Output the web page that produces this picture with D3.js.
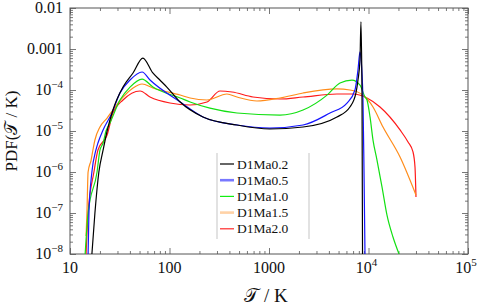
<!DOCTYPE html>
<html>
<head>
<meta charset="utf-8">
<script src="https://cdn.jsdelivr.net/npm/d3@7"></script>
<style>
  body { margin: 0; background: #fff; }
  text { font-family: "Liberation Serif", "DejaVu Serif", serif; fill: #111; }
</style>
</head>
<body>
<div id="chart"></div>
<script>
// series: temperature (K) and PDF values
var tMa02 = [16.6, 17.8, 19.5, 21.5, 23.6, 27, 34.1, 43, 54, 68, 80, 94, 128, 217, 477, 1020, 2200, 4820, 6510, 7480, 7840, 8210, 8400, 8610, 8710];
var pMa02 = [1e-8, 1e-7, 1e-6, 3.4e-6, 1e-5, 3.25e-5, 1.18e-4, 2.6e-4, 6e-4, 2.6e-4, 1.75e-4, 1.18e-4, 5.1e-5, 2.2e-5, 1.4e-5, 1.12e-5, 1.25e-5, 2.2e-5, 3.85e-5, 8.5e-5, 1.75e-4, 5.4e-4, 4.6e-3, 5.7e-5, 1e-8];

var tMa05 = [15.2, 15.5, 16.6, 18.2, 19.1, 21.5, 26.4, 31.8, 40.1, 53, 63.7, 128, 217, 477, 1020, 2200, 4100, 6080, 7310, 7840, 8210, 8400, 8800, 9010, 9220];
var pMa05 = [1e-8, 1e-7, 1e-6, 3.4e-6, 5.1e-6, 1.06e-5, 2.75e-5, 8.5e-5, 1.75e-4, 2.75e-4, 1.75e-4, 5.1e-5, 2.2e-5, 1.4e-5, 1.18e-5, 1.4e-5, 2.75e-5, 4.8e-5, 1e-4, 3.1e-4, 8.5e-4, 6e-4, 5.7e-5, 1.1e-6, 1e-8];

var tMa10 = [14.2, 15.2, 18.7, 20, 21.5, 23, 25.2, 31.8, 40.1, 53, 68.2, 128, 161, 255, 477, 1290, 2200, 3830, 5170, 6820, 8210, 9220, 9660, 10360, 11100, 12170, 13680, 15340, 17620, 20270];
var pMa10 = [1e-8, 1e-7, 1e-6, 3.4e-6, 5.1e-6, 1e-5, 1.57e-5, 5.7e-5, 1.18e-4, 1.85e-4, 1.18e-4, 6.4e-5, 5.1e-5, 3.6e-5, 2.75e-5, 2.45e-5, 3.25e-5, 7.5e-5, 1.48e-4, 1.75e-4, 1.32e-4, 6.75e-5, 5.7e-5, 2.2e-5, 6e-6, 1.96e-6, 4.3e-7, 8.9e-8, 2.6e-8, 1e-8];

var tMa15 = [14.5, 14.8, 15.2, 16.3, 17.0, 17.8, 20, 23.6, 27, 34.1, 43, 53, 68.2, 128, 161, 238, 378, 477, 757, 1290, 2200, 4820, 6510, 8800, 11100, 13990, 20750, 30000];
var pMa15 = [2.75e-8, 1e-7, 1e-6, 1.96e-6, 3.44e-6, 6.03e-6, 1.25e-5, 2.07e-5, 3.25e-5, 6.75e-5, 1.12e-4, 1.4e-4, 1.12e-4, 7.55e-5, 6.38e-5, 5.7e-5, 7.98e-5, 6.75e-5, 5.39e-5, 6.38e-5, 8.45e-5, 1.06e-4, 1e-4, 7.55e-5, 3.85e-5, 1.25e-5, 2.32e-6, 2.75e-7];

var tMa20 = [14.5, 15.2, 17.4, 19.1, 23.6, 27, 34.1, 50.6, 63.7, 101, 161, 238, 322, 425, 690, 1290, 2200, 4820, 6980, 9660, 13050, 20750, 24960, 28010, 29330, 30000];
var pMa20 = [1e-8, 1e-7, 1e-6, 3.44e-6, 7.98e-6, 2.75e-5, 5.7e-5, 9.45e-5, 6.75e-5, 4.82e-5, 4.31e-5, 5.09e-5, 9.45e-5, 8.94e-5, 6.75e-5, 6.03e-5, 6.75e-5, 7.98e-5, 7.98e-5, 6.38e-5, 3.85e-5, 1.06e-5, 5.39e-6, 3.08e-6, 1.32e-6, 2.45e-7];

var names = ["D1Ma0.2", "D1Ma0.5", "D1Ma1.0", "D1Ma1.5", "D1Ma2.0"];
var lineColors = ["#000000", "#1414ff", "#12e012", "#ff8c1a", "#ff1a1a"];
var legendColors = ["#000000", "#7878ff", "#12ee12", "#ffd2a6", "#ff2a2a"];
var legendWidths = [1.2, 2.6, 1.2, 2.6, 1.2];

var xTicks = [10, 100, 1000, 1e4, 1e5];
var xTickLabels = ["10", "100", "1000", "10^4", "10^5"];
var yTicks = [1e-8, 1e-7, 1e-6, 1e-5, 1e-4, 1e-3, 1e-2];
var yTickLabels = ["10^\u22128", "10^\u22127", "10^\u22126", "10^\u22125", "10^\u22124", "0.001", "0.01"];

var series = [
  {t: tMa02, p: pMa02},
  {t: tMa05, p: pMa05},
  {t: tMa10, p: pMa10},
  {t: tMa15, p: pMa15},
  {t: tMa20, p: pMa20}
];

var width = 480, height = 308;
var svg = d3.select("#chart").append("svg")
    .attr("width", width)
    .attr("height", height);

var x = d3.scaleLog().domain([10, 1e5]).range([70, 468]);
var y = d3.scaleLog().domain([1e-8, 1e-2]).range([254, 8]);

var xMinor = x.ticks().filter(function(v) { return xTicks.indexOf(v) < 0; });
var yMinor = y.ticks().filter(function(v) { return yTicks.indexOf(v) < 0; });

// ticks on all four sides, pointing inward
function ticks(axis, tx, vals, size) {
  var g = svg.append("g")
    .attr("transform", tx)
    .call(axis.tickValues(vals).tickSize(-size).tickFormat(""));
  g.select(".domain").remove();
  g.selectAll("line").attr("stroke", "#555").attr("stroke-width", 0.8);
}
ticks(d3.axisBottom(x), "translate(0,254)", xTicks, 6);
ticks(d3.axisBottom(x), "translate(0,254)", xMinor, 3);
ticks(d3.axisTop(x), "translate(0,8)", xTicks, 6);
ticks(d3.axisTop(x), "translate(0,8)", xMinor, 3);
ticks(d3.axisLeft(y), "translate(70,0)", yTicks, 6);
ticks(d3.axisLeft(y), "translate(70,0)", yMinor, 3);
ticks(d3.axisRight(y), "translate(468,0)", yTicks, 6);
ticks(d3.axisRight(y), "translate(468,0)", yMinor, 3);

svg.append("rect")
    .attr("x", 70).attr("y", 8)
    .attr("width", 398).attr("height", 246)
    .attr("fill", "none")
    .attr("stroke", "#555")
    .attr("stroke-width", 1);

// tick labels with superscripts
function label(sel, s) {
  var parts = s.split("^");
  sel.append("tspan").text(parts[0]);
  if (parts[1]) sel.append("tspan").attr("dy", -7).attr("font-size", 11).text(parts[1]);
}
xTicks.forEach(function(v, i) {
  var t = svg.append("text")
      .attr("x", x(v) - (i > 2 ? 2 : 0))
      .attr("y", 273)
      .attr("text-anchor", "middle")
      .attr("font-size", 16);
  label(t, xTickLabels[i]);
});
yTicks.forEach(function(v, i) {
  var t = svg.append("text")
      .attr("x", 63)
      .attr("y", y(v) + 5)
      .attr("text-anchor", "end")
      .attr("font-size", 16);
  label(t, yTickLabels[i]);
});

// axis titles
svg.append("text")
    .attr("x", 266).attr("y", 302)
    .attr("text-anchor", "middle")
    .attr("font-size", 19)
    .text("\uD835\uDCAF / K");
svg.append("text")
    .attr("transform", "translate(17,131) rotate(-90)")
    .attr("text-anchor", "middle")
    .attr("font-size", 17)
    .text("PDF(\uD835\uDCAF / K)");

// curves
svg.append("clipPath").attr("id", "clip")
  .append("rect").attr("x", 70).attr("y", 8).attr("width", 398).attr("height", 246);

var line = d3.line()
    .x(function(d) { return x(d[0]); })
    .y(function(d) { return y(d[1]); })
    .curve(d3.curveMonotoneX);

svg.append("g").attr("clip-path", "url(#clip)")
  .selectAll("path")
  .data(series.slice().reverse())
  .join("path")
    .attr("d", function(s) { return line(s.t.map(function(t, i) { return [t, s.p[i]]; })); })
    .attr("fill", "none")
    .attr("stroke", function(s) { return lineColors[series.indexOf(s)]; })
    .attr("stroke-width", 1.2);

// legend
var leg = svg.append("g");
leg.selectAll(".edge")
  .data([217, 309])
  .join("line")
    .attr("x1", function(d) { return d; }).attr("x2", function(d) { return d; })
    .attr("y1", 153).attr("y2", 239)
    .attr("stroke", "#d8d8d8")
    .attr("stroke-width", 1.5);
names.forEach(function(n, i) {
  var yy = 164 + i * 16.2;
  leg.append("line")
      .attr("x1", 220).attr("x2", 234)
      .attr("y1", yy).attr("y2", yy)
      .attr("stroke", legendColors[i])
      .attr("stroke-width", legendWidths[i]);
  leg.append("text")
      .attr("x", 237).attr("y", yy + 4.5)
      .attr("font-size", 13.5)
      .text(n);
});
</script>
</body>
</html>
